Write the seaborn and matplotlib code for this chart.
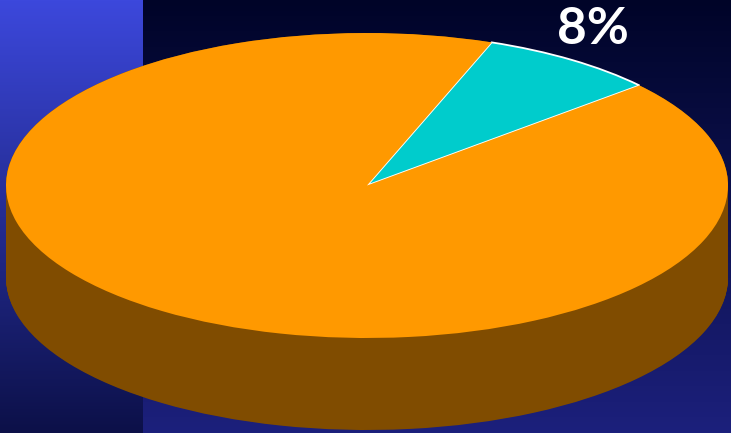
import numpy as np
import matplotlib.pyplot as plt
import seaborn as sns

# data
shares = [8, 92]
labels = ['8%', '']
top_colors = ['#00cccc', '#ff9900']
side_colors = ['#006363', '#804c00']

sns.set_style('white')

W, H = 731, 433
fig = plt.figure(figsize=(W / 100, H / 100), dpi=100)

# background: two vertical gradients (light strip on the left)
bg = fig.add_axes([0, 0, 1, 1])
t = np.linspace(0, 1, H)[:, None]
left_top, left_bot = np.array([60, 72, 220]), np.array([12, 16, 72])
right_top, right_bot = np.array([0, 4, 40]), np.array([28, 32, 124])
left = left_top + (left_bot - left_top) * t
right = right_top + (right_bot - right_top) * t
img = np.empty((H, W, 3))
split = 143
img[:, :split] = left[:, None, :]
img[:, split:] = right[:, None, :]
bg.imshow(img / 255, aspect='auto', extent=(0, W, H, 0))
bg.axis('off')

# pie axes, stretched so the circle becomes a flat ellipse
ax = fig.add_axes([0, 0, 1, 1])
ax.set_facecolor('none')
cx, cy, rx, ry = 367, 185.5, 361, 152.5
depth = 92 / ry

for off in np.linspace(depth, 0, 150):
    ax.pie(shares, colors=side_colors, startangle=41, center=(0, -off),
           wedgeprops=dict(linewidth=0))

wedges, _ = ax.pie(shares, colors=top_colors, startangle=41,
                   wedgeprops=dict(linewidth=0))
wedges[0].set_edgecolor('white')
wedges[0].set_linewidth(1.3)

ax.set_aspect('auto')
ax.set_xlim(-cx / rx, (W - cx) / rx)
ax.set_ylim((cy - H) / ry, cy / ry)
ax.axis('off')

fig.text(593 / W, 1 - 30 / H, labels[0], color='white', fontsize=37,
         fontweight='bold', family='Lato', ha='center', va='center')

fig.savefig('out.png', dpi=100)
